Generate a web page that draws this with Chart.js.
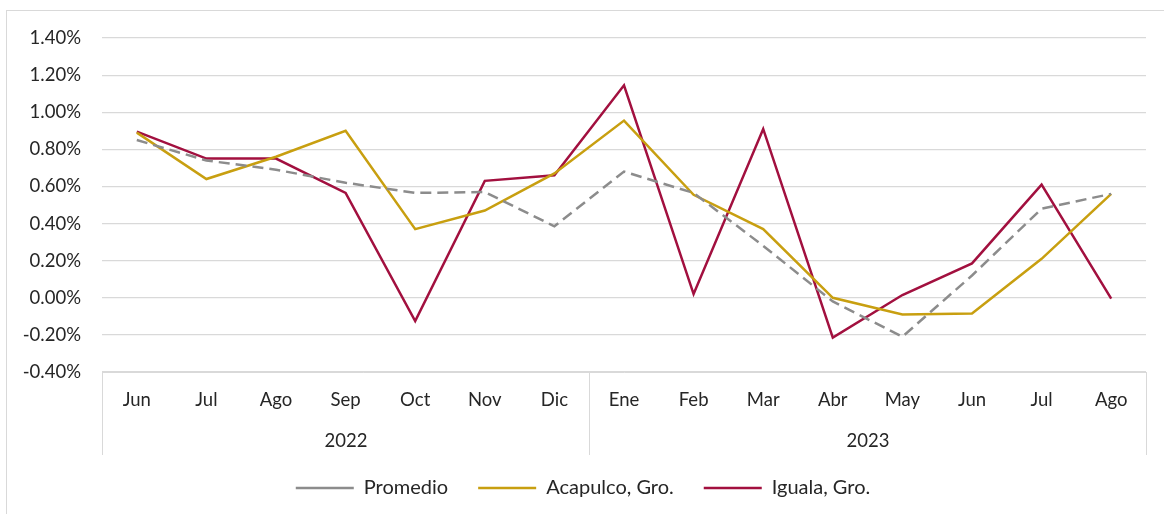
<!DOCTYPE html>
<html lang="es">
<head>
<meta charset="utf-8">
<script src="https://cdn.jsdelivr.net/npm/chart.js@4.4.0/dist/chart.umd.min.js"></script>
<style>
  body { margin: 0; background: #fff; }
  .marco { position: absolute; left: 6px; top: 10px; width: 1160px; height: 505px; border: 1px solid #d9d9d9; }
  #grafica { position: absolute; left: 0; top: 0; }
</style>
</head>
<body>
<div class="marco"></div>
<canvas id="grafica" width="1164" height="514"></canvas>
<script>
// Datos de la gráfica
const meses = ["Jun", "Jul", "Ago", "Sep", "Oct", "Nov", "Dic", "Ene", "Feb", "Mar", "Abr", "May", "Jun", "Jul", "Ago"];
const anios = ["2022", "2023"];
const mesesPorAnio = [7, 8];
const promedio = [0.85, 0.74, 0.69, 0.62, 0.565, 0.57, 0.385, 0.68, 0.565, 0.28, -0.02, -0.21, 0.12, 0.48, 0.56];
const acapulco = [0.89, 0.64, 0.76, 0.90, 0.37, 0.47, 0.67, 0.955, 0.555, 0.37, 0.0, -0.09, -0.085, 0.21, 0.56];
const iguala = [0.895, 0.75, 0.75, 0.565, -0.125, 0.63, 0.66, 1.145, 0.02, 0.91, -0.215, 0.015, 0.185, 0.61, -0.005];
const ticksY = [-0.4, -0.2, 0, 0.2, 0.4, 0.6, 0.8, 1.0, 1.2, 1.4];

const fuente = "Lato, 'Open Sans', sans-serif";
const tamano = 18.5;
const colorTexto = "#262626";
const colorLinea = "#d9d9d9";

// Dibuja los años debajo de los meses, con sus separadores
const gruposPlugin = {
    id: "grupos",
    afterDraw: function(chart) {
        const x = chart.scales.x;
        const ctx = chart.ctx;
        const arriba = chart.chartArea.bottom;
        const paso = x.getPixelForTick(1) - x.getPixelForTick(0);
        let inicio = 0;
        ctx.save();
        ctx.strokeStyle = colorLinea;
        ctx.lineWidth = 1;
        ctx.fillStyle = colorTexto;
        ctx.font = tamano + "px " + fuente;
        ctx.textAlign = "center";
        ctx.textBaseline = "middle";
        anios.forEach(function(anio, i) {
            const n = mesesPorAnio[i];
            const x0 = Math.round(x.getPixelForTick(inicio) - paso / 2) + 0.5;
            const x1 = Math.round(x.getPixelForTick(inicio + n - 1) + paso / 2) + 0.5;
            ctx.beginPath();
            ctx.moveTo(x0, arriba);
            ctx.lineTo(x0, arriba + 83);
            ctx.moveTo(x1, arriba);
            ctx.lineTo(x1, arriba + 83);
            ctx.stroke();
            ctx.fillText(anio, (x0 + x1) / 2, arriba + 69);
            inicio += n;
        });
        ctx.restore();
    }
};

const contexto = document.getElementById("grafica").getContext("2d");

const grafica = new Chart(contexto, {
    type: "line",
    data: {
        labels: meses,
        datasets: [
            {
                label: "Promedio",
                data: promedio,
                borderColor: "#8c8c8c",
                backgroundColor: "#8c8c8c",
                borderWidth: 2.5,
                borderDash: [11, 6],
                pointRadius: 0,
                tension: 0
            },
            {
                label: "Acapulco, Gro.",
                data: acapulco,
                borderColor: "#c89f10",
                backgroundColor: "#c89f10",
                borderWidth: 2.5,
                pointRadius: 0,
                tension: 0
            },
            {
                label: "Iguala, Gro.",
                data: iguala,
                borderColor: "#a2103f",
                backgroundColor: "#a2103f",
                borderWidth: 2.5,
                pointRadius: 0,
                tension: 0
            }
        ]
    },
    options: {
        responsive: false,
        animation: false,
        layout: { padding: { left: 20, right: 18, top: 38, bottom: 6 } },
        plugins: {
            tooltip: { enabled: false },
            legend: {
                position: "bottom",
                labels: {
                    usePointStyle: true,
                    pointStyle: "line",
                    pointStyleWidth: 58,
                    boxWidth: 58,
                    boxHeight: 12,
                    padding: 30,
                    color: colorTexto,
                    font: { family: fuente, size: 20 }
                }
            }
        },
        scales: {
            x: {
                offset: true,
                grid: { display: false, drawTicks: false, offset: true },
                border: { display: true, color: colorLinea },
                ticks: {
                    color: colorTexto,
                    padding: 17,
                    maxRotation: 0,
                    autoSkip: false,
                    font: { family: fuente, size: tamano }
                },
                afterFit: function(scale) { scale.height = 76; }
            },
            y: {
                min: -0.4,
                max: 1.4,
                afterBuildTicks: function(scale) {
                    scale.ticks = ticksY.map(function(v) { return { value: v }; });
                },
                grid: { color: colorLinea, lineWidth: 1.2, drawTicks: false },
                border: { display: false },
                ticks: {
                    color: colorTexto,
                    padding: 21,
                    font: { family: fuente, size: tamano },
                    callback: function(v) { return v.toFixed(2) + "%"; }
                },
                afterFit: function(scale) { scale.width = 82; }
            }
        }
    },
    plugins: [gruposPlugin]
});
</script>
</body>
</html>
